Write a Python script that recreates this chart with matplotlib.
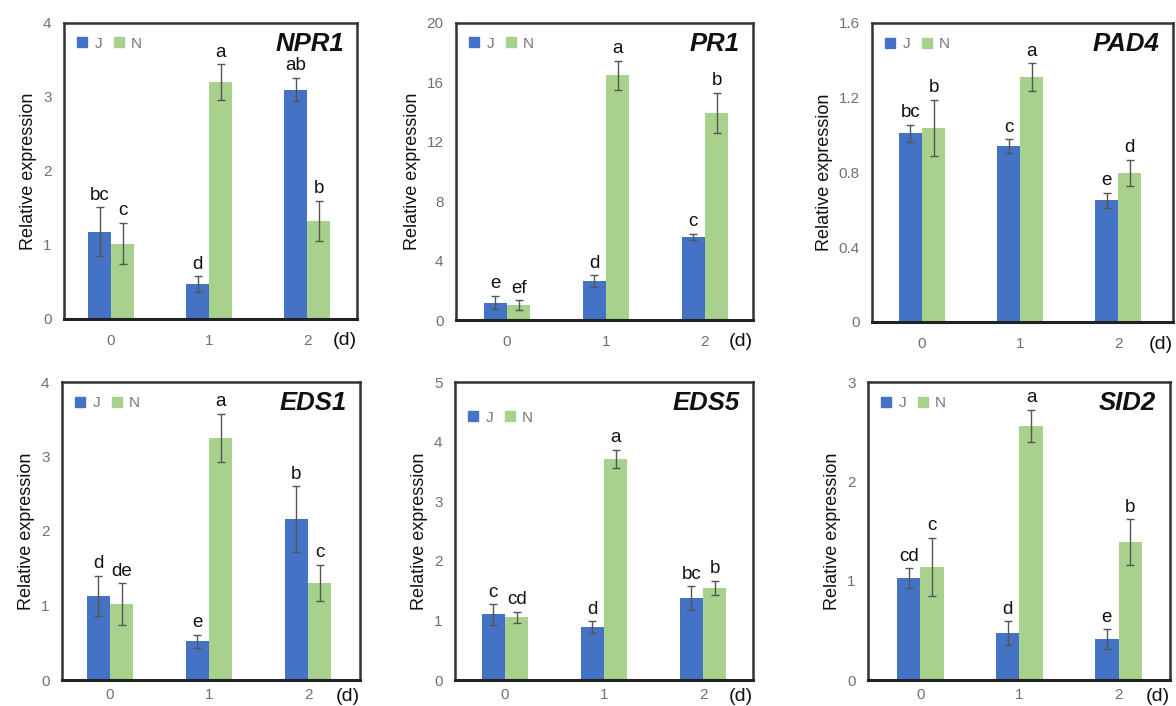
import matplotlib
matplotlib.use("Agg")
import matplotlib.pyplot as plt
import numpy as np
from matplotlib.lines import Line2D

plt.rcParams['font.family'] = ['Liberation Sans', 'DejaVu Sans']

days = ["0", "1", "2"]
genes = ["NPR1", "PR1", "PAD4", "EDS1", "EDS5", "SID2"]

J_vals = {
    "NPR1": [1.18, 0.47, 3.10],
    "PR1": [1.17, 2.62, 5.60],
    "PAD4": [1.01, 0.942, 0.652],
    "EDS1": [1.13, 0.52, 2.16],
    "EDS5": [1.10, 0.885, 1.37],
    "SID2": [1.025, 0.47, 0.41],
}
J_err = {
    "NPR1": [0.33, 0.11, 0.16],
    "PR1": [0.45, 0.38, 0.22],
    "PAD4": [0.045, 0.036, 0.04],
    "EDS1": [0.27, 0.09, 0.44],
    "EDS5": [0.17, 0.10, 0.20],
    "SID2": [0.10, 0.12, 0.10],
}
N_vals = {
    "NPR1": [1.02, 3.20, 1.33],
    "PR1": [1.00, 16.48, 13.95],
    "PAD4": [1.04, 1.31, 0.797],
    "EDS1": [1.02, 3.25, 1.305],
    "EDS5": [1.05, 3.71, 1.545],
    "SID2": [1.14, 2.56, 1.387],
}
N_err = {
    "NPR1": [0.28, 0.24, 0.27],
    "PR1": [0.33, 0.96, 1.35],
    "PAD4": [0.15, 0.075, 0.07],
    "EDS1": [0.28, 0.32, 0.24],
    "EDS5": [0.09, 0.15, 0.12],
    "SID2": [0.29, 0.16, 0.23],
}
J_letters = {
    "NPR1": ["bc", "d", "ab"],
    "PR1": ["e", "d", "c"],
    "PAD4": ["bc", "c", "e"],
    "EDS1": ["d", "e", "b"],
    "EDS5": ["c", "d", "bc"],
    "SID2": ["cd", "d", "e"],
}
N_letters = {
    "NPR1": ["c", "a", "b"],
    "PR1": ["ef", "a", "b"],
    "PAD4": ["b", "a", "d"],
    "EDS1": ["de", "a", "c"],
    "EDS5": ["cd", "a", "b"],
    "SID2": ["c", "a", "b"],
}
y_ticks = {
    "NPR1": [0, 1, 2, 3, 4],
    "PR1": [0, 4, 8, 12, 16, 20],
    "PAD4": [0, 0.4, 0.8, 1.2, 1.6],
    "EDS1": [0, 1, 2, 3, 4],
    "EDS5": [0, 1, 2, 3, 4, 5],
    "SID2": [0, 1, 2, 3],
}
y_ticklabels = {
    "NPR1": ["0", "1", "2", "3", "4"],
    "PR1": ["0", "4", "8", "12", "16", "20"],
    "PAD4": ["0", "0.4", "0.8", "1.2", "1.6"],
    "EDS1": ["0", "1", "2", "3", "4"],
    "EDS5": ["0", "1", "2", "3", "4", "5"],
    "SID2": ["0", "1", "2", "3"],
}
series_names = ["J", "N"]

# layout (pixels: left, right, top, bottom)
W, H = 1176, 706
boxes = {
    "NPR1": (64, 357, 23, 319),
    "PR1": (456, 753, 23, 320),
    "PAD4": (872, 1173, 23, 322),
    "EDS1": (62, 360, 382, 680),
    "EDS5": (455, 753, 382, 680),
    "SID2": (868, 1170, 382, 680),
}
xlims = {
    "NPR1": (-0.48, 2.51),
    "PR1": (-0.515, 2.485),
    "PAD4": (-0.51, 2.56),
    "EDS1": (-0.485, 2.525),
    "EDS5": (-0.505, 2.505),
    "SID2": (-0.53, 2.52),
}
legend_y = {"NPR1": 0.93, "PR1": 0.93, "PAD4": 0.93,
            "EDS1": 0.93, "EDS5": 0.88, "SID2": 0.93}

blue = "#4472C4"
green = "#A9D18E"
bw = 0.235

fig = plt.figure(figsize=(W / 100, H / 100), dpi=100)

for k, g in enumerate(genes):
    l, r, t, b = boxes[g]
    ax = fig.add_axes([l / W, 1 - b / H, (r - l) / W, (b - t) / H])
    x = np.arange(len(days))
    ymax = y_ticks[g][-1]
    ekw = dict(ecolor="#555555", elinewidth=1.0, capsize=3, capthick=1.0)
    ax.bar(x - bw / 2, J_vals[g], bw, color=blue, yerr=J_err[g], error_kw=ekw, zorder=2)
    ax.bar(x + bw / 2, N_vals[g], bw, color=green, yerr=N_err[g], error_kw=ekw, zorder=2)
    off = ymax * 0.012
    for i in range(len(days)):
        ax.text(x[i] - bw / 2, J_vals[g][i] + J_err[g][i] + off, J_letters[g][i],
                ha="center", va="bottom", fontsize=13.5, color="#111111")
        ax.text(x[i] + bw / 2, N_vals[g][i] + N_err[g][i] + off, N_letters[g][i],
                ha="center", va="bottom", fontsize=13.5, color="#111111")
    ax.set_xlim(*xlims[g])
    ax.set_ylim(0, ymax)
    ax.set_yticks(y_ticks[g])
    ax.set_yticklabels(y_ticklabels[g])
    ax.set_xticks(x)
    ax.set_xticklabels(days)
    ax.tick_params(axis="both", length=0, labelsize=11, labelcolor="#707070")
    ax.tick_params(axis="x", pad=11 if k < 3 else 6)
    ax.tick_params(axis="y", pad=9)
    for s in ax.spines.values():
        s.set_color("#333333")
        s.set_linewidth(1.8)
    ax.spines["bottom"].set_color("#222222")
    ax.spines["bottom"].set_linewidth(2.2)
    ax.set_ylabel("Relative expression", fontsize=13, color="#111111", labelpad=4)
    ax.text(0.955, 0.93, g, transform=ax.transAxes, ha="right", va="center",
            fontsize=18.5, fontweight="bold", fontstyle="italic", color="#111111")
    if k < 3:
        ax.text(0.96, -0.074, "(d)", transform=ax.transAxes, ha="center", va="center",
                fontsize=14, color="#111111")
    else:
        ax.text(0.96, -0.083, "(d)", transform=ax.transAxes, ha="center", va="bottom",
                fontsize=14, color="#111111")
    handles = [Line2D([], [], marker="s", linestyle="none", markersize=6.5,
                      markerfacecolor=c, markeredgecolor=c) for c in (blue, green)]
    ax.legend(handles, series_names, loc="center left", bbox_to_anchor=(0.0, legend_y[g]),
              ncol=2, frameon=False, fontsize=11, labelcolor="#777777",
              handletextpad=0.3, columnspacing=0.6, handlelength=1.0, borderaxespad=0.3)

fig.savefig("out.png", dpi=100)
